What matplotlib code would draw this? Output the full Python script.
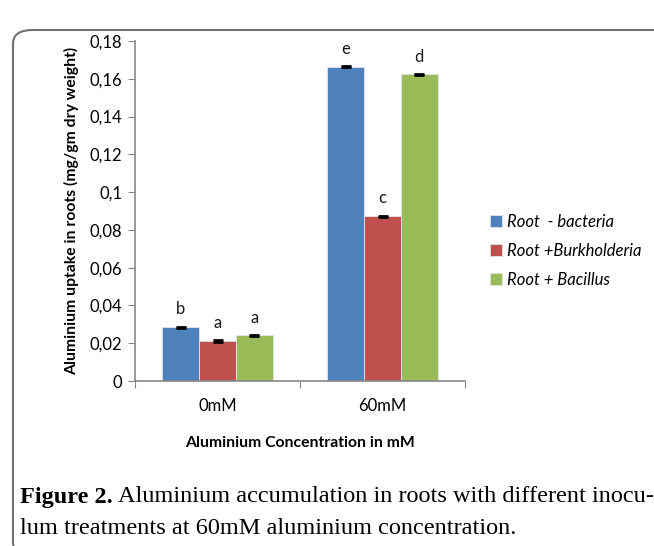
import numpy as np
import matplotlib.pyplot as plt
from matplotlib.patches import FancyBboxPatch

categories = ["0mM", "60mM"]
series_names = ["Root  - bacteria", "Root +Burkholderia", "Root + Bacillus"]
values = [
    [0.0285, 0.1665],
    [0.0212, 0.0873],
    [0.0241, 0.1623],
]
errors = [
    [0.0003, 0.0003],
    [0.0003, 0.0003],
    [0.0003, 0.0003],
]
letters = [
    ["b", "e"],
    ["a", "c"],
    ["a", "d"],
]
colors = ["#4F81BD", "#C0504D", "#9BBB59"]
yticks = [0, 0.02, 0.04, 0.06, 0.08, 0.1, 0.12, 0.14, 0.16, 0.18]
ytick_labels = ["0", "0,02", "0,04", "0,06", "0,08", "0,1", "0,12", "0,14", "0,16", "0,18"]

plt.rcParams['font.family'] = ['Lato', 'DejaVu Sans']

fig = plt.figure(figsize=(6.54, 5.46), dpi=100)
ax = fig.add_axes([135 / 654, 1 - 381 / 546, 330 / 654, 340 / 546])

x = np.arange(len(categories))
width = 0.223
for i in range(len(series_names)):
    pos = x + (i - 1) * width
    ax.bar(pos, values[i], width, color=colors[i], edgecolor="#dfe6ef", linewidth=0.6,
           label=series_names[i], zorder=2)
    ax.errorbar(pos, values[i], yerr=errors[i], fmt="none", ecolor="black",
                elinewidth=1, capsize=3.5, capthick=2, zorder=3)
    for j in range(len(categories)):
        ax.annotate(letters[i][j], (pos[j], values[i][j]), xytext=(0, 7),
                    textcoords="offset points", ha="center", va="bottom",
                    fontsize=12, color="#1a1a1a")

ax.set_xlim(-0.5, 1.5)
ax.set_ylim(0, 0.18)
ax.set_yticks(yticks)
ax.set_yticklabels(ytick_labels)
ax.set_xticks([-0.5, 0.5, 1.5])
ax.set_xticklabels([])
ax.set_xticks(x, minor=True)
ax.set_xticklabels(categories, minor=True)
ax.tick_params(axis="x", which="minor", length=0, pad=12, labelsize=12)
ax.tick_params(axis="x", which="major", length=5, color="#868686", direction="out")
ax.tick_params(axis="y", length=5, color="#868686", labelsize=12, pad=4)
for s in ["top", "right"]:
    ax.spines[s].set_visible(False)
for s in ["left", "bottom"]:
    ax.spines[s].set_color("#868686")
    ax.spines[s].set_linewidth(1.2)

ax.set_ylabel("Aluminium uptake in roots (mg/gm dry weight)", fontsize=11.3,
              fontweight="bold", labelpad=8)
ax.set_xlabel("Aluminium Concentration in mM", fontsize=11.3, fontweight="bold",
              labelpad=16)

leg = ax.legend(loc="upper left", bbox_to_anchor=(1.03, 0.535), frameon=False,
                prop={"style": "italic", "size": 12}, handlelength=0.75,
                handleheight=0.75, handletextpad=0.25, labelspacing=0.78)

t1 = fig.text(20 / 654, 1 - 497 / 546, "Figure 2.", fontsize=17.5, fontweight="bold",
              family="Liberation Serif", va="center", ha="left")
fig.canvas.draw()
bb = t1.get_window_extent(fig.canvas.get_renderer())
fig.text(bb.x1 / 654 + 5 / 654, 1 - 497 / 546,
         "Aluminium accumulation in roots with different inocu-",
         fontsize=17.5, family="Liberation Serif", va="center", ha="left")
fig.text(20 / 654, 1 - 528 / 546,
         "lum treatments at 60mM aluminium concentration.",
         fontsize=17.5, family="Liberation Serif", va="center", ha="left")

box = FancyBboxPatch((13 / 654, -10 / 546), 700 / 654, 526 / 546,
                     boxstyle="round,pad=0,rounding_size=0.03",
                     transform=fig.transFigure, fill=False, edgecolor="#707070",
                     linewidth=1.5, mutation_aspect=546 / 654)
fig.patches.append(box)

fig.savefig("out.png", dpi=100)
